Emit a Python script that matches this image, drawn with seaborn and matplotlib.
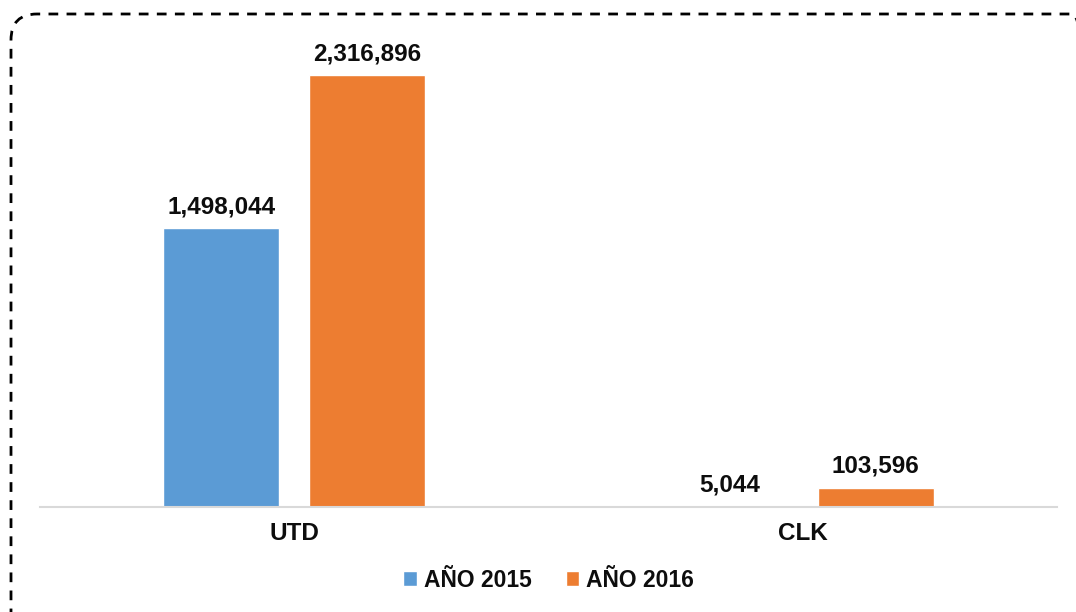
import matplotlib
matplotlib.use("Agg")
import matplotlib.pyplot as plt
import seaborn as sns
import pandas as pd
from matplotlib.patches import FancyBboxPatch
from matplotlib.transforms import IdentityTransform

categories = ["UTD", "CLK"]
series_names = ["AÑO 2015", "AÑO 2016"]
values_2015 = [1498044, 5044]
values_2016 = [2316896, 103596]
colors = ["#5B9BD5", "#ED7D31"]

df = pd.DataFrame({
    "cat": categories * 2,
    "serie": [series_names[0]] * 2 + [series_names[1]] * 2,
    "val": values_2015 + values_2016,
})

sns.set_style("white")
plt.rcParams["font.family"] = ["Liberation Sans", "DejaVu Sans"]

W, H = 1076, 612
fig = plt.figure(figsize=(W / 100, H / 100), dpi=100)
ax = fig.add_axes([40 / W, (H - 507) / H, (1057 - 40) / W, (507 - 41) / H])

sns.barplot(data=df, x="cat", y="val", hue="serie", order=categories,
            hue_order=series_names, palette=colors, width=0.575, gap=0.205,
            saturation=1, ax=ax, legend=True)

ax.set_ylim(0, 2500000)
ax.set_xlim(-0.5, 1.5)
ax.set_xlabel("")
ax.set_ylabel("")
ax.set_yticks([])
for s in ["left", "right", "top"]:
    ax.spines[s].set_visible(False)
ax.spines["bottom"].set_color("#d9d9d9")
ax.spines["bottom"].set_linewidth(1.5)
ax.tick_params(axis="x", length=0, pad=11)
for lbl in ax.get_xticklabels():
    lbl.set_fontsize(17.5)
    lbl.set_fontweight("bold")
    lbl.set_color("#0d0d0d")

for cont in ax.containers:
    for bar in cont:
        h = bar.get_height()
        ax.annotate(f"{int(round(h)):,}", (bar.get_x() + bar.get_width() / 2, h),
                    xytext=(0, 7), textcoords="offset points", ha="center",
                    va="bottom", fontsize=17.5, fontweight="bold", color="#0d0d0d")

leg = ax.legend(loc="center", bbox_to_anchor=(0.5, -0.157), ncol=2, frameon=False,
                handlelength=0.6, handleheight=0.6, handletextpad=0.3,
                columnspacing=1.5, prop={"size": 16.5, "weight": "bold"})
for t in leg.get_texts():
    t.set_color("#0d0d0d")

border = FancyBboxPatch((11, -30), 1098 - 11, (H - 14) + 30,
                        boxstyle="round,pad=0,rounding_size=26",
                        transform=IdentityTransform(), fill=False,
                        edgecolor="black", linewidth=2, linestyle=(0, (3.5, 3)))
fig.patches.append(border)

fig.savefig("out.png", dpi=100)
